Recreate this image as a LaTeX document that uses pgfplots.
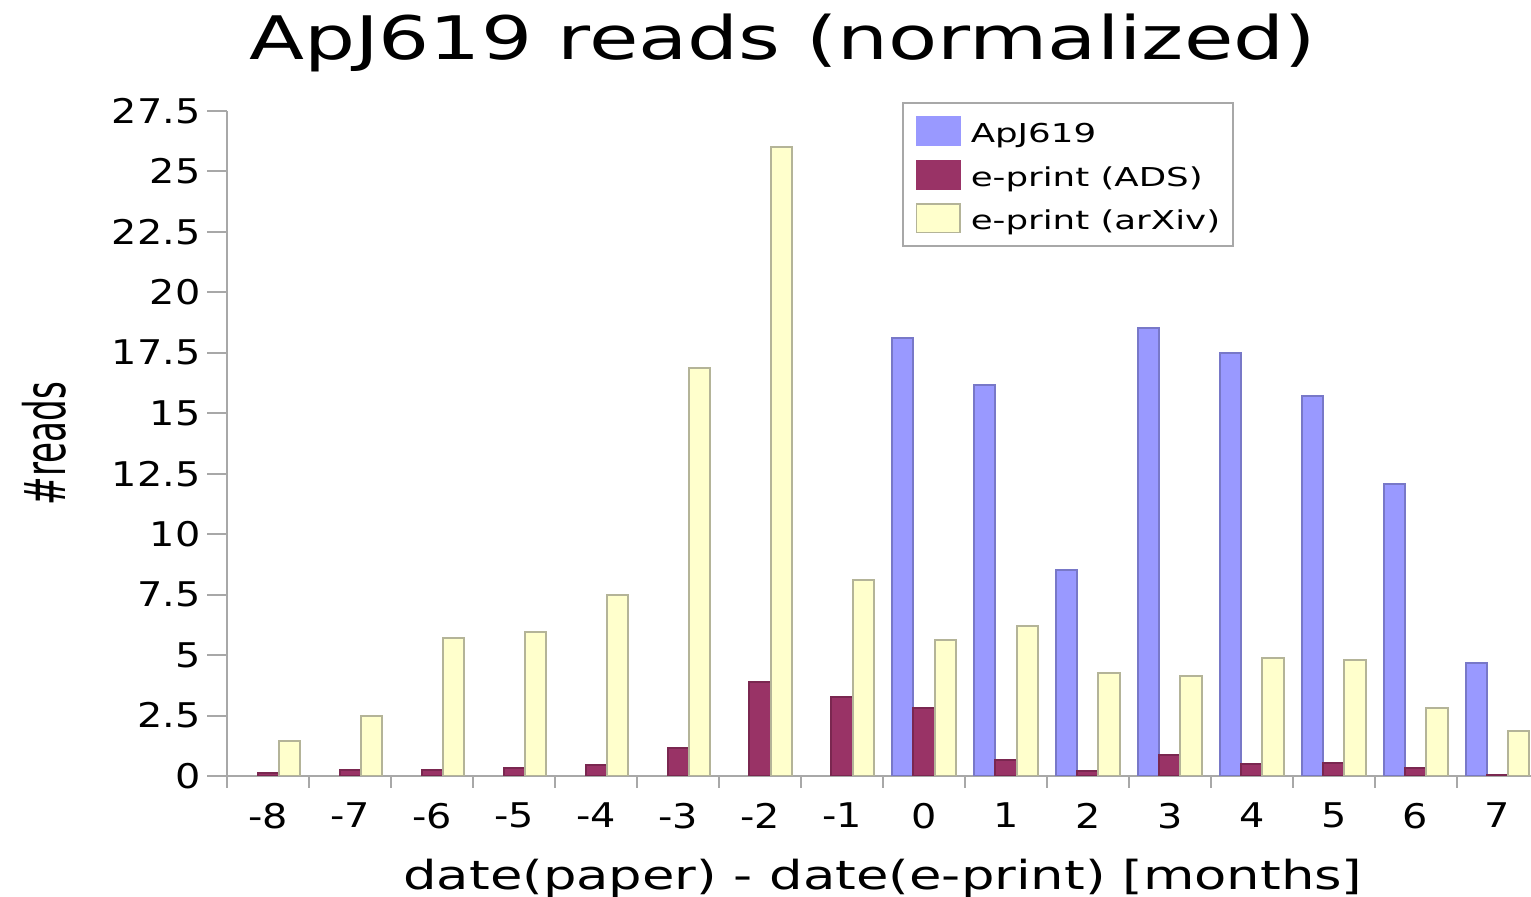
\documentclass[border=0pt]{standalone}
\usepackage{fontspec}
\setmainfont[FakeStretch=1.32]{DejaVu Sans}
\newfontfamily\titlefont[FakeStretch=1.34]{DejaVu Sans}
\newfontfamily\tickfont[FakeStretch=1.17]{DejaVu Sans}
\newfontfamily\legfont[FakeStretch=1.37]{DejaVu Sans}
\newfontfamily\ylfont[FakeStretch=0.6]{DejaVu Sans}
\usepackage{pgfplots}
\usepackage{pgfplotstable}
\pgfplotsset{compat=1.18}
\definecolor{cblue}{HTML}{9999FF}
\definecolor{cbluee}{HTML}{7878C8}
\definecolor{cred}{HTML}{993366}
\definecolor{credd}{HTML}{7A2750}
\definecolor{cyel}{HTML}{FFFFCC}
\definecolor{cyele}{HTML}{B4B498}
\definecolor{caxis}{HTML}{A8A8A8}

\pgfplotstableread{
x y
0 18.11
1 16.17
2 8.52
3 18.53
4 17.49
5 15.72
6 12.08
7 4.68
}\apj
\pgfplotstableread{
x y
-8 0.12
-7 0.23
-6 0.23
-5 0.33
-4 0.47
-3 1.16
-2 3.88
-1 3.27
0 2.8
1 0.66
2 0.2
3 0.87
4 0.5
5 0.53
6 0.35
7 0.05
}\ads
\pgfplotstableread{
x y
-8 1.45
-7 2.48
-6 5.7
-5 5.95
-4 7.48
-3 16.86
-2 26.03
-1 8.1
0 5.62
1 6.2
2 4.26
3 4.13
4 4.88
5 4.8
6 2.8
7 1.86
}\arxiv

\begin{document}
\begin{tikzpicture}
\begin{axis}[
  at={(0pt,0pt)}, anchor=south west,
  scale only axis, width=655.5pt, height=332.5pt,
  xmin=-8.5, xmax=7.5, ymin=0, ymax=27.5,
  axis lines=left,
  axis line style={-, draw=caxis, line width=1pt},
  xtick={-8,-7,-6,-5,-4,-3,-2,-1,0,1,2,3,4,5,6,7},
  xticklabels={-8,-7,-6,-5,-4,-3,-2,-1,0,1,2,3,4,5,6,7},
  minor xtick={-8.5,-7.5,-6.5,-5.5,-4.5,-3.5,-2.5,-1.5,-0.5,0.5,1.5,2.5,3.5,4.5,5.5,6.5,7.5},
  ytick={0,2.5,5,7.5,10,12.5,15,17.5,20,22.5,25,27.5},
  yticklabel style={/pgf/number format/.cd, fixed, precision=1},
  /pgf/number format/assume math mode=true,
  tick align=outside,
  major tick length=10pt, minor tick length=6pt,
  tick style={draw=caxis, line width=1pt},
  major x tick style={draw=none},
  ticklabel style={font=\tickfont\fontsize{17pt}{17pt}\selectfont, text=black},
  xlabel={date(paper) - date(e-print) [months]},
  xlabel style={at={(axis description cs:0.5,-0.170)}, anchor=base, font=\fontsize{20pt}{20pt}\selectfont},
  ylabel={\#reads},
  ylabel style={at={(axis description cs:-0.14,0.5)}, anchor=center, font=\ylfont\fontsize{28.5pt}{28.5pt}\selectfont},
  title={ApJ619 reads (normalized)},
  title style={at={(axis description cs:0.4233,1.0587)}, anchor=base, font=\titlefont\fontsize{30pt}{30pt}\selectfont},
  legend style={
    at={(axis description cs:0.5145,1.013)}, anchor=north west,
    draw=caxis, line width=0.75pt, fill=white,
    inner xsep=6.5pt, inner ysep=3.125pt,
    row sep=0pt,
    font=\legfont\fontsize{13pt}{13pt}\selectfont,
    nodes={inner sep=0pt},
    cells={anchor=base west},
    /tikz/every odd column/.append style={column sep=5pt},
  },
  ybar, bar width=0.26,
]
\addplot[fill=cblue, draw=cbluee, line width=1pt, bar shift=-0.26,
  legend image code/.code={\path[draw=none,fill=none] (0pt,-5.025pt) rectangle (22.5pt,16.725pt);
    \path[draw=none,fill=cblue] (0pt,-1.65pt) rectangle (22.5pt,13.35pt);}]
  table[x=x,y=y]{\apj};
\addlegendentry{ApJ619}
\addplot[fill=cred, draw=credd, line width=1pt, bar shift=0,
  legend image code/.code={\path[draw=none,fill=none] (0pt,-5.025pt) rectangle (22.5pt,16.725pt);
    \path[draw=none,fill=cred] (0pt,-1.65pt) rectangle (22.5pt,13.35pt);}]
  table[x=x,y=y]{\ads};
\addlegendentry{e-print (ADS)}
\addplot[fill=cyel, draw=cyele, line width=1pt, bar shift=0.26,
  legend image code/.code={\path[draw=none,fill=none] (0pt,-5.025pt) rectangle (22.5pt,16.725pt);
    \path[fill=cyel, draw=cyele, line width=0.75pt] (0.375pt,-1.275pt) rectangle (22.125pt,12.975pt);}]
  table[x=x,y=y]{\arxiv};
\addlegendentry{e-print (arXiv)}
\end{axis}
\pgfresetboundingbox
\useasboundingbox (-113.75pt,-60.5pt) rectangle (651.75pt,388pt);
\end{tikzpicture}
\end{document}
